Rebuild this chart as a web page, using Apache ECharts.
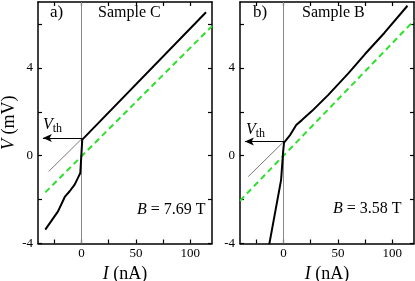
<!DOCTYPE html>
<html><head><meta charset="utf-8">
<script src="https://cdn.jsdelivr.net/npm/echarts@6/dist/echarts.min.js"></script>
<style>html,body{margin:0;padding:0;background:#fff}#c{width:415px;height:281px}</style>
</head><body><div id="c"></div>
<script>
// axis ranges and ticks
const xMin = -40, xMax = 120, yMin = -4, yMax = 7;
const xTickValues = [-25, 0, 25, 50, 75, 100];
const xLabelValues = [0, 50, 100];
const yTickValues = [-4, -2, 0, 2, 4, 6];
const yLabelValues = [-4, 0, 4];

// panel a) Sample C
const aCurveI = [-33.3, -21.6, -15.4, -10.9, -6.3, -2.6, -1.1, 0.7, 1.4, 114.5];
const aCurveV = [-3.37, -2.54, -1.88, -1.62, -1.32, -0.94, -0.79, 0.73, 0.81, 6.53];
const aExtrapI = [-30.2, 0.7];
const aExtrapV = [-0.72, 0.79];
const aOhmicI = [-33.3, 120];
const aOhmicV = [-1.67, 5.9];
const aVth = 0.80;
const aArrowI = [0.7, -35.5];

// panel b) Sample B
const bCurveI = [-13.1, -2.2, -0.3, 0.5, 6.2, 11.7, 16.9, 26.1, 41.2, 59.6, 75, 92.7, 114];
const bCurveV = [-4.04, -1.1, 0.2, 0.6, 0.95, 1.40, 1.62, 2.03, 2.77, 3.75, 4.63, 5.59, 6.83];
const bExtrapI = [-32.4, 0.5];
const bExtrapV = [-0.95, 0.65];
const bOhmicI = [-40, 120];
const bOhmicV = [-2.05, 6.15];
const bVth = 0.65;
const bArrowI = [0.3, -35.5];

const zeroI = [0, 0];
const zeroV = [-4, 7];

const panelTags = ['a)', 'b)'];
const sampleNames = ['Sample C', 'Sample B'];
const fieldValues = ['7.69', '3.58'];

const FONT = 'Liberation Serif';
const zip = (a, b) => a.map((v, i) => [v, b[i]]);

const grids = [
  {left: 38, top: 2, width: 174, height: 241.5, containLabel: false, outerBoundsMode: 'none'},
  {left: 240, top: 2, width: 174, height: 241.5, containLabel: false, outerBoundsMode: 'none'}
];

function xAx(gi, pos, showLab) {
  return {
    type: 'value', gridIndex: gi, position: pos, min: xMin, max: xMax,
    axisLine: {show: true, onZero: false, lineStyle: {color: '#000', width: 1.5}},
    axisTick: {show: true, inside: true, length: 4, customValues: xTickValues, lineStyle: {color: '#000', width: 1.2}},
    axisLabel: {show: showLab, customValues: xLabelValues, color: '#000', fontFamily: FONT, fontSize: 13, margin: 4},
    splitLine: {show: false},
    name: showLab ? '{i|I} (nA)' : '',
    nameLocation: 'middle', nameGap: 18,
    nameTextStyle: {color: '#000', fontFamily: FONT, fontSize: 18,
      rich: {i: {fontStyle: 'italic', fontFamily: FONT, fontSize: 18, color: '#000'}}}
  };
}
function yAx(gi, pos, showLab, showName) {
  return {
    type: 'value', gridIndex: gi, position: pos, min: yMin, max: yMax,
    axisLine: {show: true, onZero: false, lineStyle: {color: '#000', width: 1.5}},
    axisTick: {show: true, inside: true, length: 4, customValues: yTickValues, lineStyle: {color: '#000', width: 1.2}},
    axisLabel: {show: showLab, customValues: yLabelValues, color: '#000', fontFamily: FONT, fontSize: 13, margin: 5},
    splitLine: {show: false},
    name: showName ? '{i|V} (mV)' : '',
    nameLocation: 'middle', nameGap: 16,
    nameTextStyle: {color: '#000', fontFamily: FONT, fontSize: 18,
      rich: {i: {fontStyle: 'italic', fontFamily: FONT, fontSize: 18, color: '#000'}}}
  };
}

function panelSeries(gi, curveI, curveV, extI, extV, ohmI, ohmV, vth, arrowI) {
  return [
    {type: 'line', xAxisIndex: gi, yAxisIndex: gi, data: zip(zeroI, zeroV), showSymbol: false,
     lineStyle: {color: '#888', width: 1}, silent: true, animation: false},
    {type: 'line', xAxisIndex: gi, yAxisIndex: gi, data: zip(ohmI, ohmV), showSymbol: false,
     lineStyle: {color: '#2ee02e', width: 2, type: [6, 4]}, silent: true, animation: false},
    {type: 'line', xAxisIndex: gi, yAxisIndex: gi, data: zip(extI, extV), showSymbol: false,
     lineStyle: {color: '#555', width: 0.8}, silent: true, animation: false,
     markLine: {silent: true, animation: false, symbol: ['none', 'arrow'], symbolSize: [6, 9],
       label: {show: false},
       lineStyle: {color: '#000', width: 1.2, type: 'solid'},
       data: [[{coord: [arrowI[0], vth]}, {coord: [arrowI[1], vth]}]]}},
    {type: 'line', xAxisIndex: gi, yAxisIndex: gi, data: zip(curveI, curveV), showSymbol: false,
     lineStyle: {color: '#000', width: 2}, silent: true, animation: false}
  ];
}

const txtStyle = (text, x, y, size) => ({type: 'text', left: x, top: y, silent: true,
  style: {text: text, fill: '#000', font: size + 'px "' + FONT + '"',
    rich: {i: {fontStyle: 'italic', fontSize: size, fontFamily: FONT, fill: '#000'},
           v: {fontStyle: 'italic', fontSize: 16, fontFamily: FONT, fill: '#000'},
           s: {fontSize: 12, fontFamily: FONT, fill: '#000', padding: [8, 0, 0, 0]}}}});

const graphics = [
  txtStyle(panelTags[0], 50, 4, 17),
  txtStyle(sampleNames[0], 98, 5, 16),
  txtStyle('{i|B} = ' + fieldValues[0] + ' T', 137, 202, 16),
  txtStyle('{v|V}{s|th}', 43, 117, 16),
  txtStyle(panelTags[1], 253, 4, 17),
  txtStyle(sampleNames[1], 302, 5, 16),
  txtStyle('{i|B} = ' + fieldValues[1] + ' T', 333, 201, 16),
  txtStyle('{v|V}{s|th}', 246, 122, 16)
];

const chart = echarts.init(document.getElementById('c'), null, {renderer: 'canvas'});
chart.setOption({
  animation: false,
  backgroundColor: '#fff',
  grid: grids,
  xAxis: [xAx(0, 'bottom', true), xAx(1, 'bottom', true), xAx(0, 'top', false), xAx(1, 'top', false)],
  yAxis: [yAx(0, 'left', true, true), yAx(1, 'left', true, false), yAx(0, 'right', false, false), yAx(1, 'right', false, false)],
  series: [
    ...panelSeries(0, aCurveI, aCurveV, aExtrapI, aExtrapV, aOhmicI, aOhmicV, aVth, aArrowI),
    ...panelSeries(1, bCurveI, bCurveV, bExtrapI, bExtrapV, bOhmicI, bOhmicV, bVth, bArrowI)
  ],
  graphic: graphics
});
</script></body></html>
